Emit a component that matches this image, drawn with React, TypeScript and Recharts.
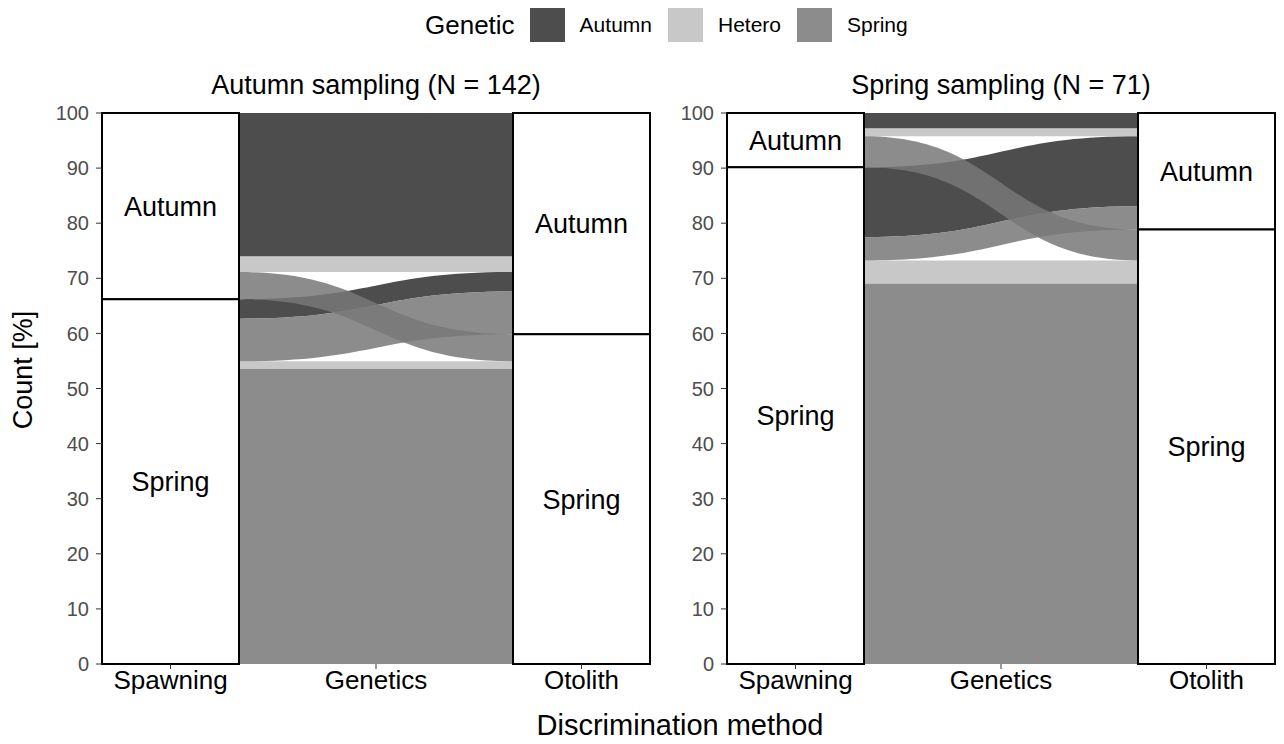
import React from 'react';
import { ComposedChart, Area, XAxis, YAxis, ReferenceArea } from 'recharts';

const FONT = '"Liberation Sans", Arial, sans-serif';

const AXIS_NAMES = ['Spawning', 'Genetics', 'Otolith'];
const STAGES = ['Autumn', 'Spring'];
const GENETIC = ['Autumn', 'Hetero', 'Spring'];
const GENETIC_FILL: Record<string, string> = {
  Autumn: '#2e2e2e',
  Hetero: '#bebebe',
  Spring: '#787878',
};
const FLOW_OPACITY = 0.85;

// one alluvium per entry: spawning stage -> otolith stage, coloured by genetic assignment
const flowSpawning = ['Autumn', 'Autumn', 'Autumn', 'Spring', 'Spring', 'Spring', 'Spring'];
const flowOtolith = ['Autumn', 'Autumn', 'Spring', 'Autumn', 'Autumn', 'Spring', 'Spring'];
const flowGenetic = ['Autumn', 'Hetero', 'Spring', 'Autumn', 'Spring', 'Hetero', 'Spring'];

// number of fish in each alluvium
const autumnSamplingCounts = [37, 4, 7, 5, 11, 2, 76];
const springSamplingCounts = [2, 1, 4, 9, 3, 3, 49];

const Y_TICKS = [0, 10, 20, 30, 40, 50, 60, 70, 80, 90, 100];

const BOX_W = 2 / 3;
const X_MIN = 1 - BOX_W / 2;
const X_MAX = 3 + BOX_W / 2;

// paint order: Autumn alluvia first, Spring ones last so they sit on top
const drawOrder = flowGenetic
  .map((g, i) => ({ g: GENETIC.indexOf(g), i }))
  .sort((a, b) => a.g - b.g || a.i - b.i)
  .map((d) => d.i);

// stack the alluvia at one axis, Autumn stratum on top, in list order
const stackAxis = (counts: number[], stageOf: string[]) => {
  const total = counts.reduce((a, b) => a + b, 0);
  const ranges: [number, number][] = new Array(counts.length);
  const strata: { stage: string; lo: number; hi: number }[] = [];
  let top = 100;
  STAGES.forEach((stage) => {
    const hi = top;
    counts.forEach((c, i) => {
      if (stageOf[i] !== stage) return;
      const lo = top - (c / total) * 100;
      ranges[i] = [lo, top];
      top = lo;
    });
    strata.push({ stage, lo: top, hi });
  });
  return { ranges, strata };
};

interface PanelProps {
  counts: number[];
  width: number;
  yAxisWidth: number;
  marginRight: number;
}

const AlluvialPanel: React.FC<PanelProps> = ({ counts, width, yAxisWidth, marginRight }) => {
  const start = stackAxis(counts, flowSpawning);
  const end = stackAxis(counts, flowOtolith);

  const rowStart: Record<string, any> = { x: 1 + BOX_W / 2 };
  const rowEnd: Record<string, any> = { x: 3 - BOX_W / 2 };
  counts.forEach((_, i) => {
    rowStart[`f${i}`] = start.ranges[i];
    rowEnd[`f${i}`] = end.ranges[i];
  });
  const data = [rowStart, rowEnd];

  const boxes = [
    ...start.strata.map((s) => ({ ...s, x: 1 })),
    ...end.strata.map((s) => ({ ...s, x: 3 })),
  ];

  return (
    <ComposedChart
      width={width}
      height={744}
      data={data}
      margin={{ top: 113, right: marginRight, bottom: 40, left: 0 }}
      style={{ fontFamily: FONT }}
    >
      <XAxis
        type="number"
        dataKey="x"
        domain={[X_MIN, X_MAX]}
        ticks={[1, 2, 3]}
        interval={0}
        tickFormatter={(v: number) => AXIS_NAMES[v - 1]}
        axisLine={false}
        tickLine={{ stroke: '#333333' }}
        tickSize={5}
        tickMargin={2}
        tick={{ fontSize: 26, fill: '#000000' }}
        height={40}
        allowDataOverflow
      />
      <YAxis
        type="number"
        domain={[0, 100]}
        ticks={Y_TICKS}
        interval={0}
        width={yAxisWidth}
        axisLine={false}
        tickLine={{ stroke: '#333333' }}
        tickSize={6}
        tickMargin={7}
        tick={{ fontSize: 20, fill: '#4d4d4d' }}
      />
      {drawOrder.map((i) => (
        <Area
          key={`flow-${i}`}
          dataKey={`f${i}`}
          type="bumpX"
          fill={GENETIC_FILL[flowGenetic[i]]}
          fillOpacity={FLOW_OPACITY}
          stroke="none"
          dot={false}
          activeDot={false}
          isAnimationActive={false}
        />
      ))}
      {boxes.map((b, i) => (
        <ReferenceArea
          key={`box-${i}`}
          x1={b.x - BOX_W / 2}
          x2={b.x + BOX_W / 2}
          y1={b.lo}
          y2={b.hi}
          fill="#ffffff"
          fillOpacity={1}
          stroke="#000000"
          strokeWidth={2}
          label={{ value: b.stage, position: 'center', fontSize: 27, fill: '#000000' }}
        />
      ))}
    </ComposedChart>
  );
};

const App: React.FC = () => {
  return (
    <div style={{ position: 'absolute', left: 0, top: 0, width: 1284, height: 744, fontFamily: FONT, background: '#fff' }}>
      {/* legend */}
      <div style={{ position: 'absolute', left: 425, top: 8, height: 34, display: 'flex', alignItems: 'center' }}>
        <span style={{ fontSize: 26, marginRight: 15 }}>Genetic</span>
        {GENETIC.map((g) => (
          <div key={g} style={{ display: 'flex', alignItems: 'center', marginRight: 16 }}>
            <div style={{ width: 35, height: 34, background: GENETIC_FILL[g], opacity: FLOW_OPACITY }} />
            <span style={{ fontSize: 21, marginLeft: 15 }}>{g}</span>
          </div>
        ))}
      </div>

      <div style={{ position: 'absolute', left: 102, width: 548, top: 70, textAlign: 'center', fontSize: 27, lineHeight: '30px' }}>
        Autumn sampling (N = 142)
      </div>
      <div style={{ position: 'absolute', left: 727, width: 548, top: 70, textAlign: 'center', fontSize: 27, lineHeight: '30px' }}>
        Spring sampling (N = 71)
      </div>

      <div style={{ position: 'absolute', left: 0, top: 0 }}>
        <AlluvialPanel counts={autumnSamplingCounts} width={660} yAxisWidth={102} marginRight={10} />
      </div>
      <div style={{ position: 'absolute', left: 660, top: 0 }}>
        <AlluvialPanel counts={springSamplingCounts} width={624} yAxisWidth={67} marginRight={9} />
      </div>

      <div
        style={{
          position: 'absolute',
          left: 23,
          top: 370,
          transform: 'translate(-50%, -50%) rotate(-90deg)',
          fontSize: 27,
          whiteSpace: 'nowrap',
        }}
      >
        Count [%]
      </div>
      <div style={{ position: 'absolute', left: 380, width: 600, top: 709, textAlign: 'center', fontSize: 29, lineHeight: '32px' }}>
        Discrimination method
      </div>
    </div>
  );
};

export default App;
